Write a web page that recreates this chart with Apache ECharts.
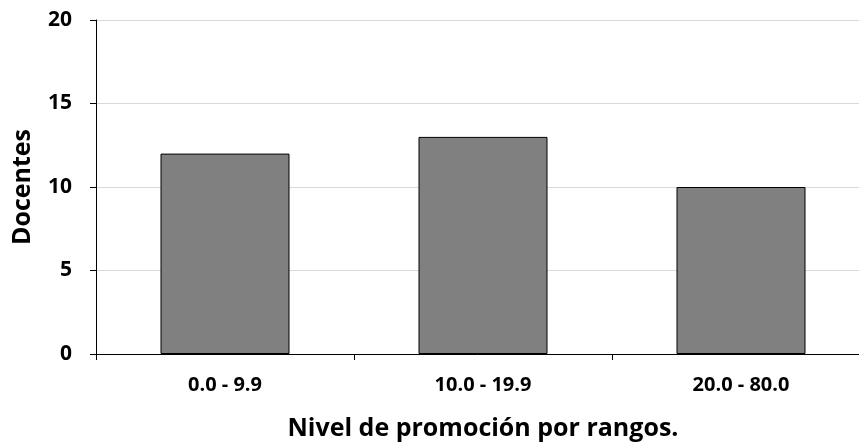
<!DOCTYPE html>
<html><head><meta charset="utf-8">
<script src="https://cdn.jsdelivr.net/npm/echarts@6/dist/echarts.min.js"></script>
<style>html,body{margin:0;padding:0;background:#fff}#c{width:859px;height:445px}</style>
</head><body><div id="c"></div>
<script>
const categories = ["0.0 - 9.9", "10.0 - 19.9", "20.0 - 80.0"];
const docentes = [12, 13, 10];
const yTicks = [0, 5, 10, 15, 20];

const font = '"Open Sans", "Liberation Sans", sans-serif';
const chart = echarts.init(document.getElementById('c'), null, {renderer: 'canvas'});
chart.setOption({
  animation: false,
  grid: {left: 96, right: -11, top: 20, bottom: 91, containLabel: false, outerBoundsMode: 'none'},
  xAxis: {
    type: 'category', data: categories,
    name: 'Nivel de promoción por rangos.', nameLocation: 'middle', nameGap: 62,
    nameTextStyle: {fontFamily: font, fontWeight: 'bold', fontSize: 25, color: '#000'},
    axisLine: {lineStyle: {color: '#000', width: 1}},
    axisTick: {show: true, length: 6, lineStyle: {color: '#000'}},
    axisLabel: {fontFamily: font, fontWeight: 'bold', fontSize: 20, color: '#000', margin: 21}
  },
  yAxis: {
    type: 'value', min: yTicks[0], max: yTicks[yTicks.length - 1], interval: 5,
    name: 'Docentes', nameLocation: 'middle', nameGap: 61, nameRotate: 90,
    nameTextStyle: {fontFamily: font, fontWeight: 'bold', fontSize: 25, color: '#000'},
    axisLine: {show: true, lineStyle: {color: '#000', width: 1}},
    axisTick: {show: true, length: 6, lineStyle: {color: '#000'}},
    axisLabel: {fontFamily: font, fontWeight: 'bold', fontSize: 21, color: '#000', margin: 24},
    splitLine: {lineStyle: {color: '#d9d9d9', width: 1}}
  },
  series: [{
    type: 'bar', data: docentes, barWidth: 129,
    itemStyle: {color: '#808080', borderColor: '#000', borderWidth: 1}
  }]
});
</script></body></html>
